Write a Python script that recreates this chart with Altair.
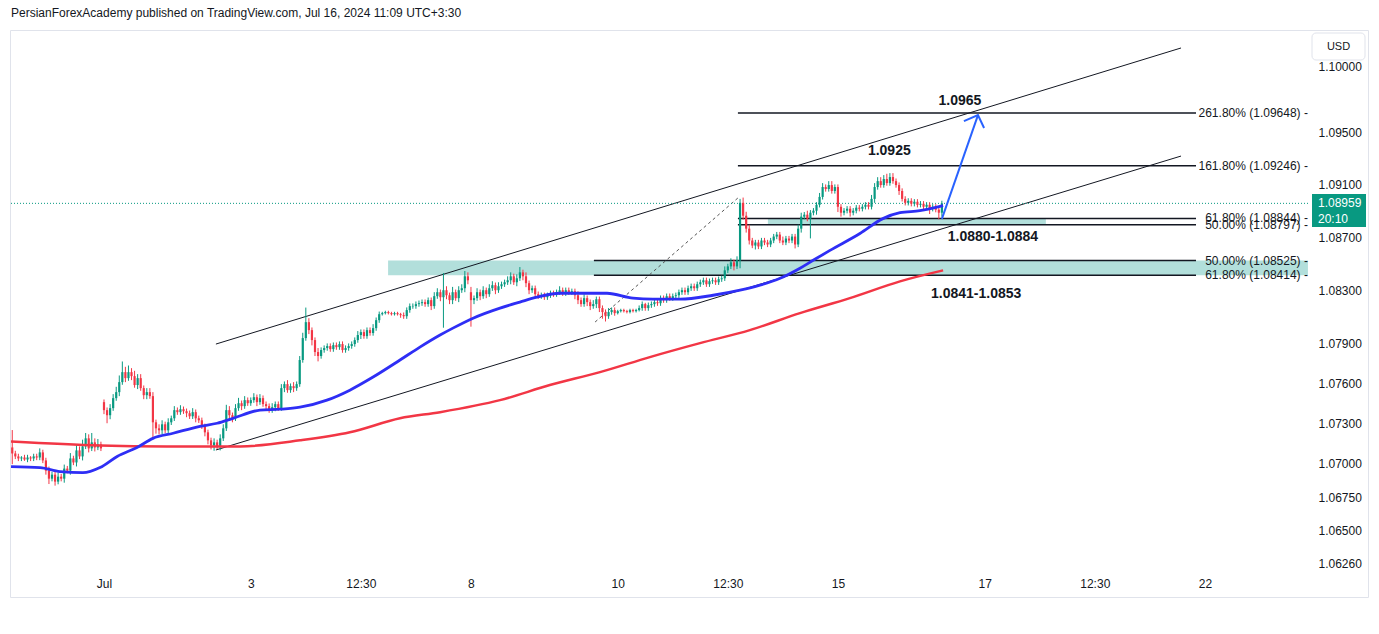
import altair as alt
import pandas as pd

TITLE_TEXT = "PersianForexAcademy published on TradingView.com, Jul 16, 2024 11:09 UTC+3:30"
FONT = "Liberation Sans"

# ---- hourly candles (index 0 = Jul 1 00:30) ----
FIRST_INDEX = -30
PRE = [1.07075, 1.07053, 1.07038, 1.07045, 1.07030, 1.07045, 1.07038, 1.07053, 1.07045, 1.07083,
       1.07023, 1.06947, 1.06887, 1.06917, 1.06865, 1.06902, 1.06887, 1.06962, 1.06947, 1.07038,
       1.07008, 1.07098, 1.07053, 1.07128, 1.07188, 1.07113, 1.07158, 1.07120, 1.07143, 1.07113]
JUL1 = [1.07399, 1.07361, 1.07414, 1.07489, 1.07534, 1.07609, 1.07684, 1.07639, 1.07684, 1.07654,
        1.07587, 1.07639, 1.07564, 1.07511, 1.07534, 1.07504, 1.07308, 1.07263, 1.07248, 1.07293,
        1.07248, 1.07308, 1.07338, 1.07399]
JUL2 = [1.07384, 1.07406, 1.07391, 1.07376, 1.07353, 1.07384, 1.07338, 1.07323, 1.07278, 1.07233,
        1.07173, 1.07135, 1.07158, 1.07128, 1.07188, 1.07263, 1.07399, 1.07361, 1.07338, 1.07414,
        1.07451, 1.07429, 1.07474, 1.07451]
JUL3 = [1.07474, 1.07496, 1.07459, 1.07489, 1.07444, 1.07429, 1.07399, 1.07421, 1.07444, 1.07414,
        1.07564, 1.07594, 1.07549, 1.07579, 1.07564, 1.07594, 1.07775, 1.07940, 1.08060, 1.08000,
        1.07925, 1.07835, 1.07805, 1.07850]
JUL4 = [1.07865, 1.07880, 1.07857, 1.07887, 1.07872, 1.07895, 1.07850, 1.07865, 1.07880, 1.07895,
        1.07925, 1.07963, 1.07985, 1.07955, 1.08000, 1.07978, 1.08015, 1.08075, 1.08120, 1.08128,
        1.08136, 1.08128, 1.08120, 1.08128]
JUL5 = [1.08120, 1.08113, 1.08105, 1.08151, 1.08181, 1.08181, 1.08196, 1.08203, 1.08211, 1.08196,
        1.08226, 1.08181, 1.08256, 1.08286, 1.08248, 1.08301, 1.08263, 1.08226, 1.08286, 1.08241,
        1.08301, 1.08316, 1.08406, 1.08376]
JUL8 = [1.08226, 1.08241, 1.08286, 1.08256, 1.08301, 1.08271, 1.08316, 1.08339, 1.08301, 1.08331,
        1.08346, 1.08361, 1.08376, 1.08406, 1.08361, 1.08391, 1.08436, 1.08406, 1.08354, 1.08301,
        1.08316, 1.08271, 1.08256, 1.08263]
JUL9 = [1.08248, 1.08263, 1.08278, 1.08271, 1.08286, 1.08301, 1.08278, 1.08301, 1.08286, 1.08293,
        1.08263, 1.08226, 1.08196, 1.08241, 1.08211, 1.08181, 1.08196, 1.08233, 1.08166, 1.08136,
        1.08105, 1.08136, 1.08151, 1.08128]
JUL10 = [1.08143, 1.08151, 1.08143, 1.08136, 1.08151, 1.08143, 1.08151, 1.08166, 1.08196, 1.08166,
         1.08188, 1.08196, 1.08211, 1.08203, 1.08241, 1.08226, 1.08256, 1.08241, 1.08256, 1.08263,
         1.08286, 1.08301, 1.08286, 1.08316]
JUL11 = [1.08331, 1.08316, 1.08346, 1.08361, 1.08376, 1.08346, 1.08369, 1.08376, 1.08361, 1.08384,
         1.08391, 1.08451, 1.08481, 1.08512, 1.08481, 1.08527, 1.08963, 1.08865, 1.08767, 1.08677,
         1.08639, 1.08662, 1.08632, 1.08677]
JUL12 = [1.08662, 1.08647, 1.08677, 1.08707, 1.08722, 1.08677, 1.08662, 1.08692, 1.08677, 1.08707,
         1.08647, 1.08767, 1.08858, 1.08873, 1.08843, 1.08888, 1.08903, 1.08948, 1.09008, 1.09083,
         1.09068, 1.09098, 1.09053, 1.09083]
JUL15 = [1.08933, 1.08888, 1.08903, 1.08918, 1.08888, 1.08903, 1.08926, 1.08918, 1.08933, 1.08948,
         1.08933, 1.08993, 1.09083, 1.09128, 1.09098, 1.09144, 1.09113, 1.09159, 1.09128, 1.09098,
         1.09053, 1.08993, 1.08963, 1.08978]
JUL16 = [1.08956, 1.08971, 1.08948, 1.08956, 1.08933, 1.08948, 1.08918, 1.08933, 1.08911, 1.08888,
         1.08959]

# opens that differ from the previous close (session gaps)
GAP_OPENS = {-30: 1.07120, 0: 1.07459, 120: 1.08286}

# wick lengths above / below the body, in pips
UP_WICK = [13, 2, 2, 1, 2, 2, 1, 2, 2, 3, 2, 2, 3, 2, 2, 3, 2, 3, 2, 4, 2, 4, 3, 5, 4, 3, 7, 3, 4, 2,
           2, 2, 3, 3, 4, 5, 8, 4, 5, 3, 4, 3, 3, 2, 3, 3, 3, 2, 3, 3, 2, 3, 2, 3,
           2, 3, 2, 2, 2, 3, 2, 2, 2, 2, 2, 2, 3, 2, 3, 3, 4, 3, 2, 3, 4, 2, 3, 2,
           2, 3, 2, 3, 2, 2, 2, 3, 2, 2, 3, 2, 3, 2, 3, 2, 3, 4, 11, 3, 2, 2, 3, 2,
           2, 2, 2, 2, 2, 2, 2, 2, 2, 2, 2, 3, 2, 2, 2, 2, 3, 2, 2, 1, 1, 1, 1, 1,
           1, 1, 2, 2, 2, 2, 2, 2, 2, 2, 2, 2, 3, 3, 2, 13, 3, 2, 4, 2, 3, 3, 4, 3,
           4, 2, 3, 2, 3, 2, 3, 3, 2, 3, 2, 2, 3, 3, 2, 3, 4, 2, 3, 2, 2, 2, 2, 2,
           2, 2, 2, 2, 2, 3, 2, 2, 2, 2, 2, 3, 2, 3, 2, 2, 3, 2, 2, 2, 2, 3, 2, 2,
           1, 1, 1, 1, 1, 1, 1, 2, 2, 1, 2, 2, 2, 2, 2, 2, 2, 2, 2, 2, 2, 2, 2, 2,
           2, 2, 2, 2, 2, 2, 2, 2, 2, 2, 2, 3, 2, 3, 2, 3, 3, 4, 3, 3, 2, 2, 2, 2,
           2, 2, 2, 2, 2, 2, 3, 2, 2, 2, 2, 3, 3, 2, 3, 2, 2, 2, 3, 3, 2, 3, 3, 2,
           2, 2, 2, 2, 2, 2, 2, 2, 2, 2, 2, 3, 3, 3, 3, 3, 4, 3, 3, 2, 2, 2, 2, 2,
           2, 2, 2, 2, 2, 2, 2, 2, 2, 2, 2]
DOWN_WICK = [8, 2, 2, 2, 1, 2, 2, 2, 2, 2, 2, 3, 4, 2, 3, 2, 2, 3, 2, 3, 2, 3, 2, 3, 2, 3, 2, 3, 2, 2,
             3, 6, 3, 2, 2, 3, 2, 3, 2, 3, 2, 3, 2, 3, 3, 2, 11, 4, 3, 3, 2, 3, 2, 2,
             2, 2, 2, 3, 2, 2, 3, 2, 2, 3, 3, 3, 4, 2, 3, 2, 2, 3, 3, 2, 2, 3, 2, 2,
             2, 2, 3, 2, 2, 3, 2, 2, 3, 2, 2, 3, 2, 2, 3, 2, 2, 2, 2, 3, 4, 3, 4, 2,
             2, 2, 2, 2, 2, 2, 2, 2, 2, 2, 2, 2, 3, 2, 2, 2, 2, 2, 2, 1, 1, 1, 1, 1,
             1, 2, 2, 2, 2, 2, 2, 2, 2, 2, 2, 3, 2, 2, 3, 23, 3, 3, 3, 2, 3, 2, 3, 3,
             20, 3, 2, 3, 2, 3, 2, 2, 3, 2, 2, 2, 2, 3, 2, 3, 2, 3, 3, 3, 2, 3, 2, 2,
             2, 2, 2, 2, 2, 2, 2, 2, 2, 2, 3, 3, 2, 2, 3, 3, 2, 3, 3, 5, 4, 2, 2, 2,
             1, 1, 1, 1, 1, 1, 1, 1, 2, 2, 2, 2, 2, 2, 2, 2, 2, 2, 2, 2, 2, 2, 2, 2,
             2, 2, 2, 2, 2, 2, 2, 2, 2, 2, 2, 2, 2, 2, 3, 2, 6, 3, 3, 3, 2, 3, 2, 2,
             2, 2, 2, 2, 2, 2, 2, 2, 2, 2, 3, 2, 3, 2, 2, 15, 2, 3, 2, 2, 2, 2, 2, 2,
             4, 3, 2, 2, 3, 2, 2, 2, 2, 2, 2, 2, 3, 2, 2, 2, 2, 2, 2, 2, 3, 2, 2, 2,
             2, 2, 2, 2, 2, 2, 4, 2, 2, 5, 3]

# ---- moving averages (candle index, price) ----
BLUE_MA_IDX = [-30.4, -20.9, -14.4, -6.9, -1.3, 4.3, 10.8, 16.0, 22.6, 31.4, 37.0, 42.2, 51.0, 57.6,
               64.1, 72.9, 80.4, 88.0, 96.8, 103.3, 109.9, 114.1, 120.7, 129.5, 136.0, 141.6, 149.1,
               157.9, 164.5, 173.0, 179.5, 188.4, 199.2, 208.0, 214.5, 221.1, 227.6, 231.9, 237.4,
               247.2, 254.7, 260.3, 266.8, 274.4]
BLUE_MA_VAL = [1.06977, 1.06970, 1.06940, 1.06932, 1.06970, 1.07053, 1.07120, 1.07188, 1.07226,
               1.07278, 1.07301, 1.07338, 1.07399, 1.07406, 1.07421, 1.07474, 1.07549, 1.07647,
               1.07775, 1.07872, 1.07963, 1.08015, 1.08090, 1.08166, 1.08211, 1.08248, 1.08278,
               1.08278, 1.08278, 1.08241, 1.08233, 1.08233, 1.08263, 1.08301, 1.08339, 1.08391,
               1.08467, 1.08527, 1.08602, 1.08730, 1.08843, 1.08888, 1.08903, 1.08941]
RED_MA_IDX = [-30.4, -1.3, 20.6, 44.5, 64.1, 80.4, 96.8, 109.9, 129.5, 145.8, 162.2, 178.5, 194.9,
              211.2, 227.6, 243.9, 260.3, 274.4]
RED_MA_VAL = [1.07165, 1.07135, 1.07128, 1.07128, 1.07173, 1.07233, 1.07338, 1.07384, 1.07474,
              1.07587, 1.07684, 1.07797, 1.07902, 1.08000, 1.08128, 1.08241, 1.08368, 1.08451]

# ---- drawings ----
CHANNEL_IDX = [36.6, 352.2]
CHANNEL_UPPER = [1.07895, 1.10146]
CHANNEL_LOWER = [1.07101, 1.09319]
DASHED_IDX = [160.6, 207.3]
DASHED_VAL = [1.08061, 1.09000]
FIB_UP_LEVELS = [1.09648, 1.09246, 1.08844, 1.08797]
FIB_UP_LABELS = ["261.80% (1.09648) -", "161.80% (1.09246) -", "61.80% (1.08844) -", "50.00% (1.08797) -"]
FIB_UP_RANGE = [207.3, 357.1]
FIB_LO_LEVELS = [1.08525, 1.08414]
FIB_LO_LABELS = ["50.00% (1.08525) -", "61.80% (1.08414) -"]
FIB_LO_RANGE = [160.2, 357.1]
FIB_LABEL_IDX = 393.7
ZONE_X1 = [92.9, 217.1]
ZONE_X2 = [393.7, 308.0]
ZONE_LO = [1.08414, 1.08797]
ZONE_HI = [1.08525, 1.08844]
ANNOT_TEXT = ["1.0965", "1.0925", "1.0880-1.0884", "1.0841-1.0853"]
ANNOT_IDX = [279.9, 256.8, 290.7, 285.2]
ANNOT_VAL = [1.09739, 1.09357, 1.08704, 1.08272]
ARROW_SHAFT_IDX = [274.0, 285.8]
ARROW_SHAFT_VAL = [1.08841, 1.09632]
ARROW_HEAD_IDX = [281.2, 285.8, 287.8]
ARROW_HEAD_VAL = [1.09586, 1.09632, 1.09533]
LAST_PRICE = 1.08959
LAST_PRICE_TEXT = "1.08959"
COUNTDOWN_TEXT = "20:10"
BOX_TOP, BOX_BOTTOM = 1.09030, 1.08780

X_TICK_IDX = [0, 48, 84, 120, 168, 204, 240, 288, 324, 360]
X_TICK_TXT = ["Jul", "3", "12:30", "8", "10", "12:30", "15", "17", "12:30", "22"]
Y_TICKS = [1.10000, 1.09500, 1.09100, 1.08700, 1.08300, 1.07900, 1.07600, 1.07300, 1.07000,
           1.06750, 1.06500, 1.06260]

X_MIN, X_MAX = -30.41, 394.05
Y_MIN, Y_MAX = 1.062010, 1.102765
W, H = 1298, 540

UP_COL, DOWN_COL = "#089981", "#f23645"
TXT = "#131722"

# ---- build candle table ----
closes = PRE + JUL1 + JUL2 + JUL3 + JUL4 + JUL5 + JUL8 + JUL9 + JUL10 + JUL11 + JUL12 + JUL15 + JUL16
rows = []
for k, c in enumerate(closes):
    i = FIRST_INDEX + k
    o = GAP_OPENS.get(i, closes[k - 1] if k > 0 else c)
    top, bot = max(o, c), min(o, c)
    if top - bot < 0.00003:
        mid = (top + bot) / 2
        top, bot = mid + 0.000015, mid - 0.000015
    rows.append(dict(i=i, o=o, c=c, hi=max(o, c) + UP_WICK[k] / 10000.0,
                     lo=min(o, c) - DOWN_WICK[k] / 10000.0, top=top, bot=bot,
                     d="up" if c >= o else "down"))
candles = pd.DataFrame(rows)

xs = alt.Scale(domain=[X_MIN, X_MAX], nice=False, zero=False)
ys = alt.Scale(type="log", domain=[Y_MIN, Y_MAX], nice=False, zero=False)
col = alt.Color("d:N", scale=alt.Scale(domain=["up", "down"], range=[UP_COL, DOWN_COL]), legend=None)

label_expr = " : ".join(f"datum.value == {v} ? '{t}'" for v, t in zip(X_TICK_IDX, X_TICK_TXT)) + " : ''"
x_axis = alt.Axis(values=X_TICK_IDX, labelExpr=label_expr, ticks=False, domain=False, grid=False,
                  labelPadding=7, labelFontSize=12, labelFont=FONT, labelColor=TXT, labelFlush=False,
                  labelOverlap=False, title=None)
y_axis = alt.Axis(orient="right", values=Y_TICKS, format=".5f", ticks=False, domain=False, grid=False,
                  labelPadding=9, labelFontSize=12, labelFont=FONT, labelColor=TXT, labelOverlap=False,
                  labelBaseline="middle", title=None)


def X(f="i"):
    return alt.X(f"{f}:Q", scale=xs, axis=x_axis)


def Y(f="p"):
    return alt.Y(f"{f}:Q", scale=ys, axis=y_axis)


one = pd.DataFrame({"k": [0]})

zones = alt.Chart(pd.DataFrame({"x1": ZONE_X1, "x2": ZONE_X2, "lo": ZONE_LO, "hi": ZONE_HI})).mark_rect(
    color="#b2dfdb").encode(x=X("x1"), x2="x2:Q", y=Y("lo"), y2="hi:Q")

fib_df = pd.DataFrame({
    "p": FIB_UP_LEVELS + FIB_LO_LEVELS,
    "a": [FIB_UP_RANGE[0]] * 4 + [FIB_LO_RANGE[0]] * 2,
    "b": [FIB_UP_RANGE[1]] * 4 + [FIB_LO_RANGE[1]] * 2,
    "lab": FIB_UP_LABELS + FIB_LO_LABELS,
    "lx": [FIB_LABEL_IDX] * 6,
})
fib_lines = alt.Chart(fib_df).mark_rule(color="#131722", strokeWidth=1.5).encode(
    x=X("a"), x2="b:Q", y=Y("p"))
fib_labels = alt.Chart(fib_df).mark_text(align="right", baseline="middle", fontSize=12, font=FONT,
                                         color=TXT).encode(x=X("lx"), y=Y("p"), text="lab:N")

chan_df = pd.DataFrame({"i": CHANNEL_IDX * 2, "p": CHANNEL_UPPER + CHANNEL_LOWER,
                        "g": ["u", "u", "l", "l"]})
channel = alt.Chart(chan_df).mark_line(color="#131722", strokeWidth=1).encode(
    x=X(), y=Y(), detail="g:N")

dashed = alt.Chart(pd.DataFrame({"i": DASHED_IDX, "p": DASHED_VAL})).mark_line(
    color="#555555", strokeWidth=1, strokeDash=[3, 3]).encode(x=X(), y=Y())

last_line = alt.Chart(pd.DataFrame({"a": [X_MIN], "b": [X_MAX], "p": [LAST_PRICE]})).mark_rule(
    color=UP_COL, strokeWidth=1, strokeDash=[1, 2]).encode(x=X("a"), x2="b:Q", y=Y("p"))

wicks = alt.Chart(candles).mark_rule(strokeWidth=1).encode(
    x=X(), y=Y("lo"), y2="hi:Q", color=col)
bodies = alt.Chart(candles).mark_rule(strokeWidth=2.2).encode(
    x=X(), y=Y("bot"), y2="top:Q", color=col)

red_ma = alt.Chart(pd.DataFrame({"i": RED_MA_IDX, "p": RED_MA_VAL})).mark_line(
    color="#f23645", strokeWidth=2.5, interpolate="monotone").encode(x=X(), y=Y())
blue_ma = alt.Chart(pd.DataFrame({"i": BLUE_MA_IDX, "p": BLUE_MA_VAL})).mark_line(
    color="#2e2ef5", strokeWidth=2.8, interpolate="monotone").encode(x=X(), y=Y())

arrow_df = pd.DataFrame({"i": ARROW_SHAFT_IDX + ARROW_HEAD_IDX,
                         "p": ARROW_SHAFT_VAL + ARROW_HEAD_VAL,
                         "g": ["s", "s", "h", "h", "h"],
                         "o": [0, 1, 0, 1, 2]})
arrow = alt.Chart(arrow_df).mark_line(color="#2962ff", strokeWidth=2).encode(
    x=X(), y=Y(), detail="g:N", order="o:Q")

annots = alt.Chart(pd.DataFrame({"i": ANNOT_IDX, "p": ANNOT_VAL, "t": ANNOT_TEXT})).mark_text(
    fontSize=14, fontWeight="bold", font=FONT, color=TXT, baseline="middle").encode(
    x=X(), y=Y(), text="t:N")

price_box = alt.Chart(pd.DataFrame({"a": [BOX_TOP], "b": [BOX_BOTTOM]})).mark_rect(
    color=UP_COL).encode(x=alt.value(1301), x2=alt.value(1355), y=Y("a"), y2="b:Q")
price_txt = alt.Chart(pd.DataFrame({"p": [LAST_PRICE], "t": [LAST_PRICE_TEXT]})).mark_text(
    align="left", baseline="middle", fontSize=12, font=FONT, color="white").encode(
    x=alt.value(1307), y=Y(), text="t:N")
count_txt = alt.Chart(pd.DataFrame({"p": [LAST_PRICE], "t": [COUNTDOWN_TEXT]})).mark_text(
    align="left", baseline="middle", fontSize=12, font=FONT, color="white", dy=16).encode(
    x=alt.value(1307), y=Y(), text="t:N")

usd_box = alt.Chart(one).mark_rect(fill="white", stroke="#e0e3eb", cornerRadius=4).encode(
    x=alt.value(1301), x2=alt.value(1354), y=alt.value(2), y2=alt.value(29))
usd_txt = alt.Chart(one).mark_text(text="USD", fontSize=11, font=FONT, color=TXT,
                                   baseline="middle").encode(x=alt.value(1327.5), y=alt.value(15.5))

frame = alt.Chart(one).mark_rect(fill=None, stroke="#e0e3eb", strokeWidth=1).encode(
    x=alt.value(-0.5), x2=alt.value(1357.5), y=alt.value(-0.5), y2=alt.value(566.5))
title = alt.Chart(one).mark_text(text=TITLE_TEXT, align="left", baseline="middle", fontSize=12,
                                 font=FONT, color=TXT).encode(x=alt.value(0), y=alt.value(-18))

chart = alt.layer(
    frame, zones, fib_lines, channel, dashed, last_line, wicks, bodies, red_ma, blue_ma, arrow,
    annots, fib_labels, price_box, price_txt, count_txt, usd_box, usd_txt, title
).properties(
    width=W, height=H, autosize=alt.AutoSizeParams(type="none"),
    padding={"left": 11, "top": 31, "right": 70, "bottom": 63}, background="white"
).configure_view(stroke=None)

chart.save("out.html", embed_options={"renderer": "svg", "actions": False})
